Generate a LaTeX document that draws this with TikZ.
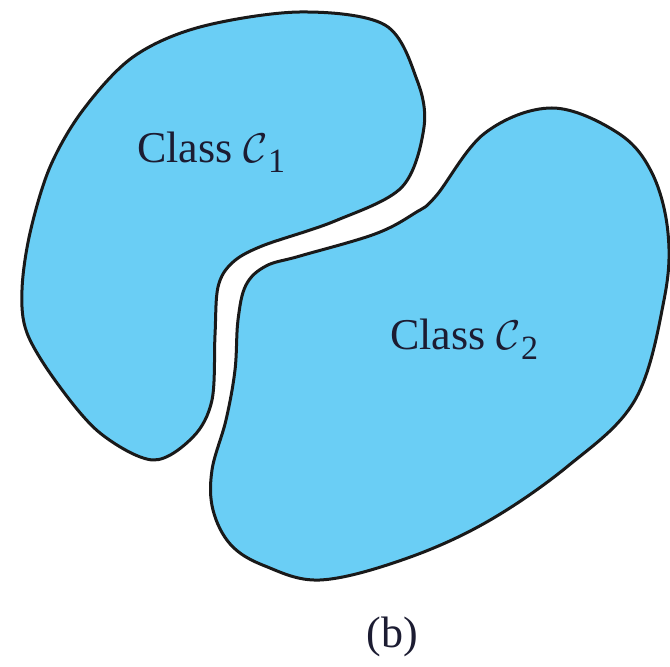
\documentclass[tikz,border=0pt]{standalone}
\usepackage{fontspec}
\setmainfont{Liberation Serif}
\definecolor{blobblue}{RGB}{106,206,245}
\definecolor{inkc}{RGB}{28,28,50}
\newcommand{\clsub}[1]{\raisebox{-5pt}{\fontsize{17}{20}\selectfont #1}}
\begin{document}
\begin{tikzpicture}[x=0.5pt,y=-0.5pt,
  blob/.style={fill=blobblue,draw=black!90,line width=1.5pt,line join=round},
  lbl/.style={font=\fontsize{22}{26}\selectfont,text=inkc,inner sep=0pt}]
\useasboundingbox (0,0) rectangle (670,667);
\draw[blob] plot[smooth cycle,tension=0.55] coordinates {
 (300,12) (385,25) (417,80) (424,127) (402,187) (335,221) (262,246)
 (232,263) (218,287) (215,335) (212,400) (193,437) (153,460) (100,433)
 (57,383) (27,333) (22,290) (30,233) (50,167) (83,110) (133,57) (200,27)};
\draw[blob] plot[smooth cycle,tension=0.6] coordinates {
 (552,108) (618,133) (652,173) (668,233) (664,300) (635,400) (568,466)
 (485,523) (402,560) (320,580) (265,566) (231,545) (213,510) (212,470)
 (226,420) (235,370) (238,320) (246,285) (266,266) (300,256) (375,234)
 (415,213) (436,196) (485,133)};
\node[lbl,anchor=base west] (c1) at (137,163) {Class $\mathcal{C}$\clsub{1}};
\node[lbl,anchor=base west] (c2) at (390,350) {Class $\mathcal{C}$\clsub{2}};
\node[lbl] (b) at (392,637) {(b)};
\end{tikzpicture}
\end{document}
